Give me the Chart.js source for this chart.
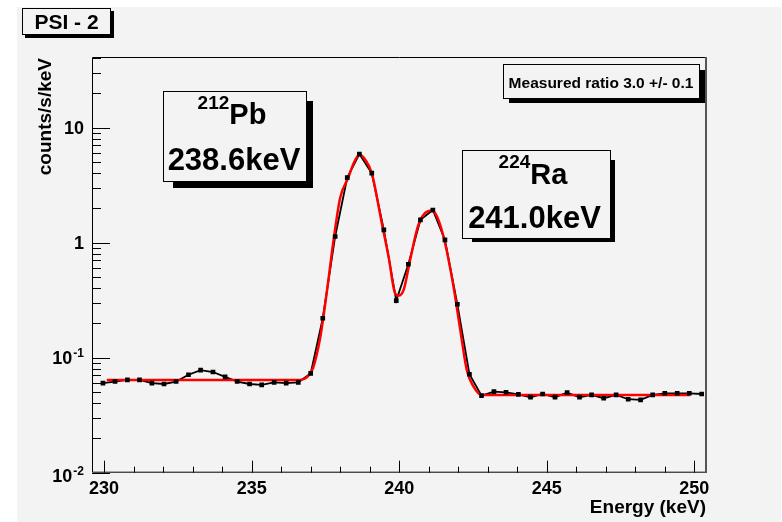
<!DOCTYPE html>
<html>
<head>
<meta charset="utf-8">
<script src="https://cdn.jsdelivr.net/npm/chart.js@4"></script>
<style>
body { margin: 0; background: #fff; }
canvas { display: block; }
</style>
</head>
<body>
<canvas id="chart" width="782" height="522"></canvas>
<script>
// measured spectrum (counts/s/keV per bin)
const energy = [229.96, 230.37, 230.79, 231.20, 231.62, 232.03, 232.44, 232.86, 233.27, 233.69,
    234.10, 234.51, 234.93, 235.34, 235.76, 236.17, 236.58, 237.00, 237.41, 237.83,
    238.24, 238.65, 239.07, 239.48, 239.90, 240.31, 240.72, 241.14, 241.55, 241.97,
    242.38, 242.79, 243.21, 243.62, 244.04, 244.45, 244.86, 245.28, 245.69, 246.11,
    246.52, 246.93, 247.35, 247.76, 248.18, 248.59, 249.00, 249.42, 249.83, 250.25]
const rate = [0.060, 0.062, 0.064, 0.064, 0.060, 0.059, 0.062, 0.071, 0.078, 0.075,
    0.068, 0.062, 0.059, 0.058, 0.061, 0.060, 0.061, 0.073, 0.22, 1.13,
    3.67, 5.87, 4.01, 1.29, 0.313, 0.648, 1.575, 1.92, 1.055, 0.291,
    0.0717, 0.0467, 0.0506, 0.050, 0.048, 0.0453, 0.0483, 0.0453, 0.0496, 0.0453,
    0.0474, 0.0444, 0.0474, 0.0435, 0.0429, 0.0474, 0.049, 0.049, 0.049, 0.0483]

// fit curve
const fitEnergy = [230.09, 236.64, 236.87, 237.08, 237.32, 237.55, 237.77, 238.00, 238.28, 238.45,
    238.65, 238.86, 239.07, 239.41, 239.64, 239.86, 239.98, 240.15, 240.37, 240.65,
    241.05, 241.22, 241.50, 241.84, 242.07, 242.29, 242.52, 242.80, 249.86]
const fitRate = [0.064, 0.064, 0.0673, 0.0813, 0.148, 0.376, 1.024, 2.45, 3.70, 4.85,
    5.79, 5.20, 4.01, 1.475, 0.755, 0.363, 0.346, 0.388, 0.707, 1.425,
    1.887, 1.80, 1.128, 0.414, 0.174, 0.0782, 0.0560, 0.0474, 0.0474]

const xTickValues = [230, 235, 240, 245, 250]
const xTickLabels = ["230", "235", "240", "245", "250"]
const yTickValues = [0.01, 0.1, 1, 10]
const yTickBase = ["10", "10", "1", "10"]
const yTickExp = ["-2", "-1", "", ""]

const padColor = "#f3f3f3"
const fontName = "'Liberation Sans', Arial, sans-serif"

function bold(size) {
    return `bold ${size}px ${fontName}`
}

function paveBox(ctx, x1, y1, x2, y2, right, bottom, inset) {
    ctx.fillStyle = "#000"
    ctx.fillRect(x1 + inset, y2, x2 - x1 - inset + right, bottom)
    ctx.fillRect(x2, y1 + inset, right, y2 - y1 - inset + bottom)
    ctx.fillStyle = padColor
    ctx.fillRect(x1, y1, x2 - x1, y2 - y1)
    ctx.strokeStyle = "#000"
    ctx.lineWidth = 1
    ctx.strokeRect(x1 + 0.5, y1 + 0.5, x2 - x1 - 1, y2 - y1 - 1)
}

function isotope(ctx, mass, name, cx, supBase, base) {
    ctx.font = bold(19)
    let w1 = ctx.measureText(mass).width
    ctx.font = bold(29)
    let w2 = ctx.measureText(name).width
    let left = cx - (w1 + w2) / 2
    ctx.textAlign = "left"
    ctx.font = bold(19)
    ctx.fillText(mass, left, supBase)
    ctx.font = bold(29)
    ctx.fillText(name, left + w1, base)
}

const rootStyle = {
    id: "rootStyle",
    beforeDraw(chart) {
        let ctx = chart.ctx
        ctx.save()
        ctx.fillStyle = "#fff"
        ctx.fillRect(0, 0, chart.width, chart.height)
        ctx.fillStyle = padColor
        ctx.fillRect(17, 7, 764, 515)
        ctx.restore()
    },
    afterDraw(chart) {
        let ctx = chart.ctx
        let a = chart.chartArea
        let xs = chart.scales.x
        let ys = chart.scales.y
        ctx.save()

        // frame
        ctx.strokeStyle = "#000"
        ctx.lineWidth = 1
        ctx.beginPath()
        ctx.moveTo(a.right, a.top + 0.5)
        ctx.lineTo(a.left + 0.5, a.top + 0.5)
        ctx.lineTo(a.left + 0.5, a.bottom - 0.5)
        ctx.lineTo(a.right, a.bottom - 0.5)
        ctx.stroke()
        ctx.strokeStyle = "#555"
        ctx.lineWidth = 2
        ctx.beginPath()
        ctx.moveTo(a.right - 1, a.top)
        ctx.lineTo(a.right - 1, a.bottom)
        ctx.stroke()

        // ticks, pointing into the frame
        ctx.strokeStyle = "#000"
        ctx.lineWidth = 1
        ctx.beginPath()
        for (let v = 230; v <= 250; v++) {
            let px = Math.round(xs.getPixelForValue(v)) + 0.5
            let len = v % 5 === 0 ? 12 : 6
            ctx.moveTo(px, a.bottom)
            ctx.lineTo(px, a.bottom - len)
        }
        for (let d = -2; d <= 1; d++) {
            for (let m = 1; m <= 9; m++) {
                let v = m * Math.pow(10, d)
                if (v > ys.max) break
                let py = Math.round(ys.getPixelForValue(v)) + 0.5
                let len = m === 1 ? 18 : 9
                ctx.moveTo(a.left, py)
                ctx.lineTo(a.left + len, py)
            }
        }
        ctx.stroke()

        // tick labels
        ctx.fillStyle = "#000"
        ctx.font = bold(18)
        ctx.textAlign = "center"
        ctx.textBaseline = "alphabetic"
        xTickValues.forEach((v, i) => {
            ctx.fillText(xTickLabels[i], xs.getPixelForValue(v), 493.5)
        })
        ctx.textAlign = "right"
        yTickValues.forEach((v, i) => {
            let py = ys.getPixelForValue(v)
            let base = i === 0 ? py + 9 : py + 6
            let right = 84
            if (yTickExp[i] !== "") {
                ctx.font = bold(12)
                ctx.fillText(yTickExp[i], right, base - 6.7)
                right -= ctx.measureText(yTickExp[i]).width + 1
            }
            ctx.font = bold(18)
            ctx.fillText(yTickBase[i], right, base)
        })

        // axis titles
        ctx.font = bold(19)
        ctx.textAlign = "right"
        ctx.fillText("Energy (keV)", a.right - 1, 513)
        ctx.save()
        ctx.translate(51, a.top + 1)
        ctx.rotate(-Math.PI / 2)
        ctx.fillText("counts/s/keV", 0, 0)
        ctx.restore()

        // title pave
        paveBox(ctx, 22, 8, 111, 35, 3, 3, 3)
        ctx.fillStyle = "#000"
        ctx.font = bold(21)
        ctx.textAlign = "center"
        ctx.fillText("PSI - 2", 66.5, 29)

        // ratio pave
        paveBox(ctx, 503, 64, 700, 99, 5, 4, 6)
        ctx.fillStyle = "#000"
        ctx.font = bold(15.5)
        ctx.textAlign = "center"
        ctx.fillText("Measured ratio 3.0 +/- 0.1", 601, 88)

        // peak labels
        paveBox(ctx, 163, 91, 307, 182, 6, 6, 10)
        ctx.fillStyle = "#000"
        isotope(ctx, "212", "Pb", 232, 108.5, 124)
        ctx.font = bold(31)
        ctx.textAlign = "center"
        ctx.fillText("238.6keV", 234, 169.5)

        paveBox(ctx, 462, 150, 611, 239, 4, 3, 10)
        ctx.fillStyle = "#000"
        isotope(ctx, "224", "Ra", 533, 167.5, 183.5)
        ctx.font = bold(31)
        ctx.textAlign = "center"
        ctx.fillText("241.0keV", 534.5, 227.5)

        ctx.restore()
    }
}

function onload() {
    let chartElement = document.getElementById("chart")

    const chartData = {
        datasets: [
            {
                label: "points",
                data: energy.map((e, i) => ({x: e, y: rate[i]})),
                showLine: false,
                pointStyle: "rect",
                pointRadius: 3.3,
                pointBackgroundColor: "#000",
                pointBorderWidth: 0,
                order: 0
            },
            {
                label: "fit",
                data: fitEnergy.map((e, i) => ({x: e, y: fitRate[i]})),
                showLine: true,
                borderColor: "#ff0000",
                borderWidth: 2.5,
                pointRadius: 0,
                cubicInterpolationMode: "monotone",
                order: 1
            },
            {
                label: "data",
                data: energy.map((e, i) => ({x: e, y: rate[i]})),
                showLine: true,
                borderColor: "#000",
                borderWidth: 1.8,
                pointRadius: 0,
                tension: 0,
                order: 2
            }
        ]
    }

    const chartConfig = {
        type: "scatter",
        data: chartData,
        options: {
            responsive: false,
            animation: false,
            events: [],
            layout: { padding: { left: 0, top: 57, right: 75, bottom: 0 } },
            plugins: { legend: { display: false }, tooltip: { enabled: false } },
            scales: {
                x: {
                    type: "linear",
                    min: 229.59,
                    max: 250.43,
                    ticks: { display: false },
                    grid: { display: false },
                    border: { display: false },
                    afterFit: scale => { scale.height = 49.3 }
                },
                y: {
                    type: "logarithmic",
                    min: 0.01,
                    max: 41,
                    ticks: { display: false },
                    grid: { display: false },
                    border: { display: false },
                    afterFit: scale => { scale.width = 92 }
                }
            }
        },
        plugins: [rootStyle]
    }

    new Chart(chartElement.getContext("2d"), chartConfig)
}

onload()
</script>
</body>
</html>
